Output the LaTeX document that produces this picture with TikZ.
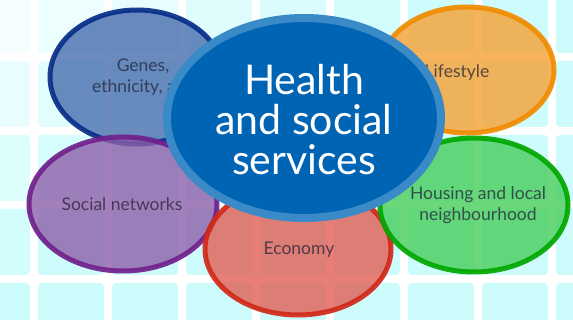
\documentclass[tikz,border=0pt]{standalone}
\usepackage{fontspec}
\setmainfont{Lato}
\definecolor{tilec}{RGB}{200,251,252}
\definecolor{genesfill}{RGB}{70,110,175}
\definecolor{genesline}{RGB}{8,45,135}
\definecolor{lifefill}{RGB}{246,160,50}
\definecolor{lifeline}{RGB}{240,140,0}
\definecolor{socfill}{RGB}{140,95,170}
\definecolor{socline}{RGB}{112,32,140}
\definecolor{ecofill}{RGB}{225,95,85}
\definecolor{ecoline}{RGB}{210,40,25}
\definecolor{housfill}{RGB}{70,205,90}
\definecolor{housline}{RGB}{0,168,0}
\definecolor{hsfill}{RGB}{0,100,180}
\definecolor{hsline}{RGB}{58,138,200}
\definecolor{labtext}{RGB}{35,35,55}
\tikzset{
  tile/.style={rounded corners=4pt},
  bubble/.style={line width=5pt, fill opacity=0.8, draw opacity=0.92},
  lab/.style={align=center, text=labtext, text opacity=0.75, font=\fontsize{17.5}{21}\selectfont, inner sep=0pt},
  hub/.style={align=center, text=white, font=\fontsize{41}{40}\selectfont, inner sep=0pt}
}
\begin{document}
\begin{tikzpicture}[x=1pt,y=-1pt]
\useasboundingbox (0,0) rectangle (573,320);
\fill[white] (0,0) rectangle (573,320);
\begin{scope}
\clip (0,0) rectangle (573,320);
\foreach \i in {0,...,8}{
  \foreach \j in {0,...,4}{
    \pgfmathsetmacro{\xx}{-36+74*\i}
    \pgfmathsetmacro{\yy}{-13+74*\j}
    \pgfmathsetmacro{\inten}{min(90,20+12*\i+20*\j)}
    \fill[tile, tilec!\inten!white] (\xx,\yy) rectangle ++(66,66);
  }
}
\end{scope}
% bubbles
\draw[bubble, draw=genesline, fill=genesfill] (137,77) ellipse [x radius=87pt, y radius=67pt];
\draw[bubble, draw=lifeline, fill=lifefill] (467,70) ellipse [x radius=87pt, y radius=63pt];
\draw[bubble, draw=socline, fill=socfill] (123,204) ellipse [x radius=94pt, y radius=67pt];
\draw[bubble, draw=ecoline, fill=ecofill] (298,249) ellipse [x radius=93pt, y radius=66pt];
\draw[bubble, draw=housline, fill=housfill] (474,205) ellipse [x radius=94pt, y radius=67pt];
\node[lab] (genes) at (143,77) {Genes,\\ethnicity, age};
\node[lab] (life) at (457,73) {Lifestyle};
\node[lab] (soc) at (122,204) {Social networks};
\node[lab] (eco) at (299,250) {Economy};
\node[lab] (hous) at (478,205) {Housing and local\\neighbourhood};
% central
\draw[line width=8pt, draw=hsline, fill=hsfill] (304,118) ellipse [x radius=137pt, y radius=100pt];
\node[hub] (hub) at (304,120) {Health\\and social\\services};
\end{tikzpicture}
\end{document}
